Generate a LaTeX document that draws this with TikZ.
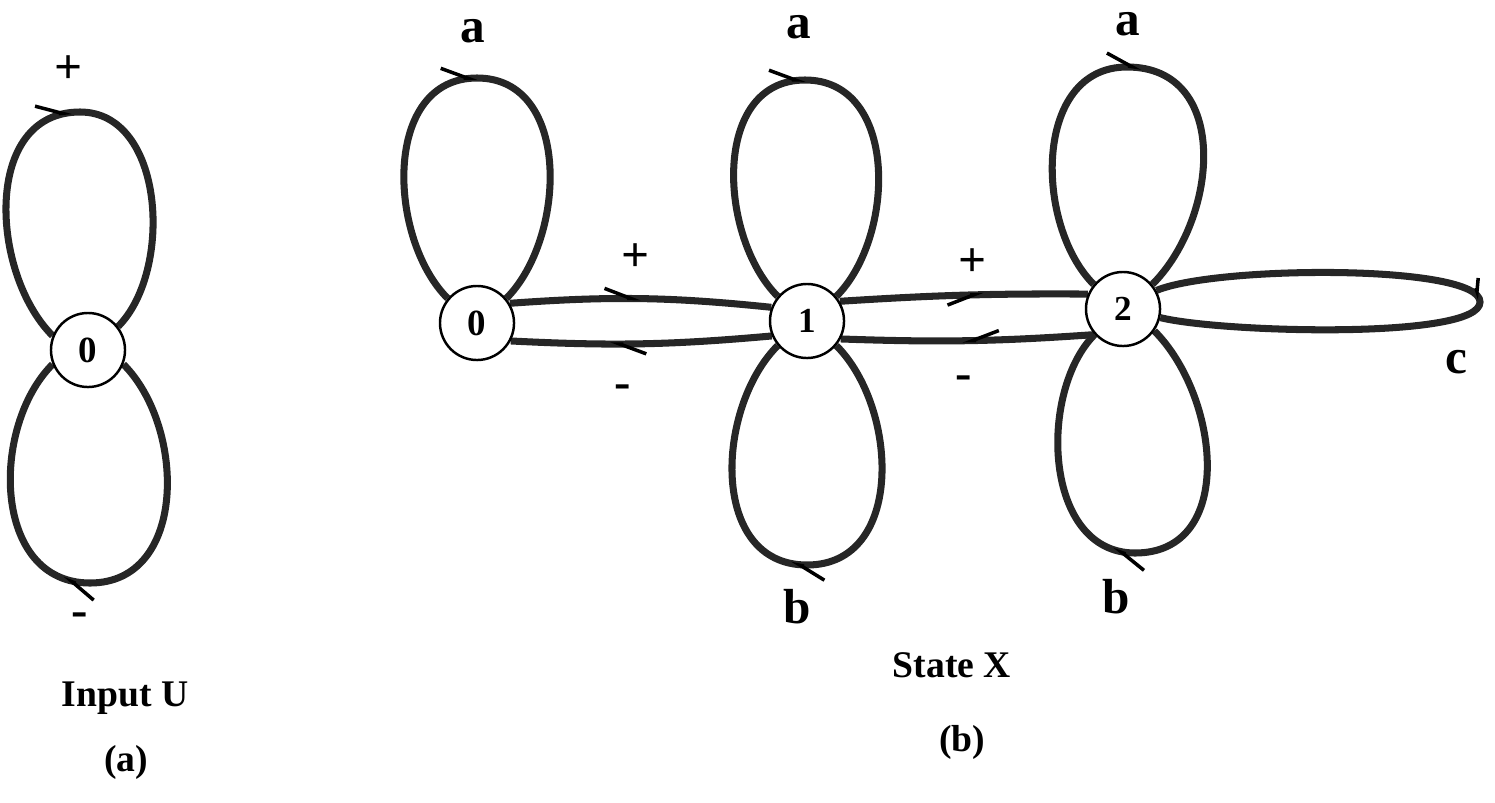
\documentclass[tikz,border=0pt]{standalone}
\usepackage{fontspec}
\setmainfont{Liberation Serif}
\usetikzlibrary{arrows.meta,decorations.markings,backgrounds,calc}
\tikzset{
    % half barbs, as drawn on the scanned figure
    hp/.tip={Straight Barb[harpoon, length=7.5pt, width=5.5pt, line width=1pt, color=black]},
    hps/.tip={Straight Barb[harpoon, swap, length=7.5pt, width=5.5pt, line width=1pt, color=black]},
    hpsmall/.tip={Straight Barb[harpoon, length=3.5pt, width=3pt, line width=1pt, color=black]},
    state/.style={
        circle,
        draw=black,
        fill=white,
        line width=0.7pt,
        minimum size=0.74cm,
        inner sep=0pt,
        font=\fontsize{10}{11}\selectfont\bfseries
    },
    statezero/.style={
        state,
        font=\fontsize{10.5}{12}\selectfont\bfseries
    },
    sym/.style={
        inner sep=0pt,
        font=\fontsize{14}{16}\selectfont\bfseries
    },
    caption/.style={
        inner sep=0pt,
        font=\fontsize{10.7}{12}\selectfont\bfseries
    },
    wire/.style={
        draw=black!85,
        line width=2pt
    },
    tipat/.style={
        postaction={decorate, decoration={markings, mark=at position #1 with {\arrow{hp}}}}
    },
    tipatswap/.style={
        postaction={decorate, decoration={markings, mark=at position #1 with {\arrow{hps}}}}
    },
    tipatsmall/.style={
        postaction={decorate, decoration={markings, mark=at position #1 with {\arrow{hpsmall}}}}
    }
}
\begin{document}
\begin{tikzpicture}[x=0.01cm, y=0.01cm]
    \useasboundingbox (0,0) rectangle (1495,802);

    % (a) input U
    \node[statezero] (u0) at (88,452) {0};
    \node[sym] (uplus) at (69,732) {+};
    \node[sym] (uminus) at (80,182) {-};
    \node[caption, anchor=base] (capu) at (125,96) {Input U};
    \node[caption] (taga) at (126,40) {(a)};

    % (b) state X
    \node[statezero] (x0) at (477,479) {0};
    \node[state] (x1) at (807,481) {1};
    \node[state] (x2) at (1123,493) {2};

    \node[sym] (a0) at (473,771) {a};
    \node[sym] (a1) at (799,775) {a};
    \node[sym] (a2) at (1128,778) {a};
    \node[sym] (b1) at (797,195) {b};
    \node[sym] (b2) at (1116,205) {b};
    \node[sym] (c2) at (1456,440) {c};
    \node[sym] (plus01) at (636,544) {+};
    \node[sym] (minus01) at (623,410) {-};
    \node[sym] (plus12) at (973,539) {+};
    \node[sym] (minus12) at (964,419) {-};
    \node[caption, anchor=base] (capx) at (952,125) {State X};
    \node[caption] (tagb) at (962,60) {(b)};

    \begin{scope}[on background layer]
        % loops of U
        \draw[wire, tipat=0.5] (u0.158) .. controls +(135:88) and +(180:98) .. ($(u0)+(-8,238)$)
            .. controls +(0:85) and +(45:78) .. (u0.38);
        \draw[wire, tipat=0.55] (u0.338) .. controls +(-45:88) and +(0:98) .. ($(u0)+(2,-233)$)
            .. controls +(180:98) and +(225:88) .. (u0.202);

        % loops of X
        \draw[wire, tipat=0.5] (x0.140) .. controls +(135:85) and +(180:95) .. ($(x0)+(0,245)$)
            .. controls +(0:95) and +(45:85) .. (x0.40);
        \draw[wire, tipat=0.5] (x1.140) .. controls +(135:84) and +(180:94) .. ($(x1)+(-2,241)$)
            .. controls +(0:94) and +(45:84) .. (x1.40);
        \draw[wire, tipat=0.53] (x1.320) .. controls +(-45:88) and +(0:98) .. ($(x1)+(0,-244)$)
            .. controls +(180:98) and +(225:88) .. (x1.220);
        \draw[wire, tipat=0.52] (x2.140) .. controls +(135:84) and +(180:94) .. ($(x2)+(4,242)$)
            .. controls +(0:104) and +(45:94) .. (x2.40);
        \draw[wire, tipat=0.55] (x2.325) .. controls +(-45:92) and +(0:102) .. ($(x2)+(12,-244)$)
            .. controls +(180:92) and +(225:80) .. (x2.222);
        \draw[wire, tipatsmall=0.5] (x2.29) .. controls +(60,25) and +(0,38) .. ($(x2)+(357,7)$)
            .. controls +(0,-38) and +(60,-15) .. (x2.347);

        % transitions
        \draw[wire, tipat=0.5] (x0.31) to[bend left=5] (x1.159);
        \draw[wire, tipat=0.62] (x1.203) to[bend left=4] (x0.332);
        \draw[wire, tipatswap=0.58] (x1.31) to[bend left=2] (x2.157);
        \draw[wire, tipatswap=0.52] (x2.222) to[bend left=3] (x1.332);
    \end{scope}
\end{tikzpicture}
\end{document}
